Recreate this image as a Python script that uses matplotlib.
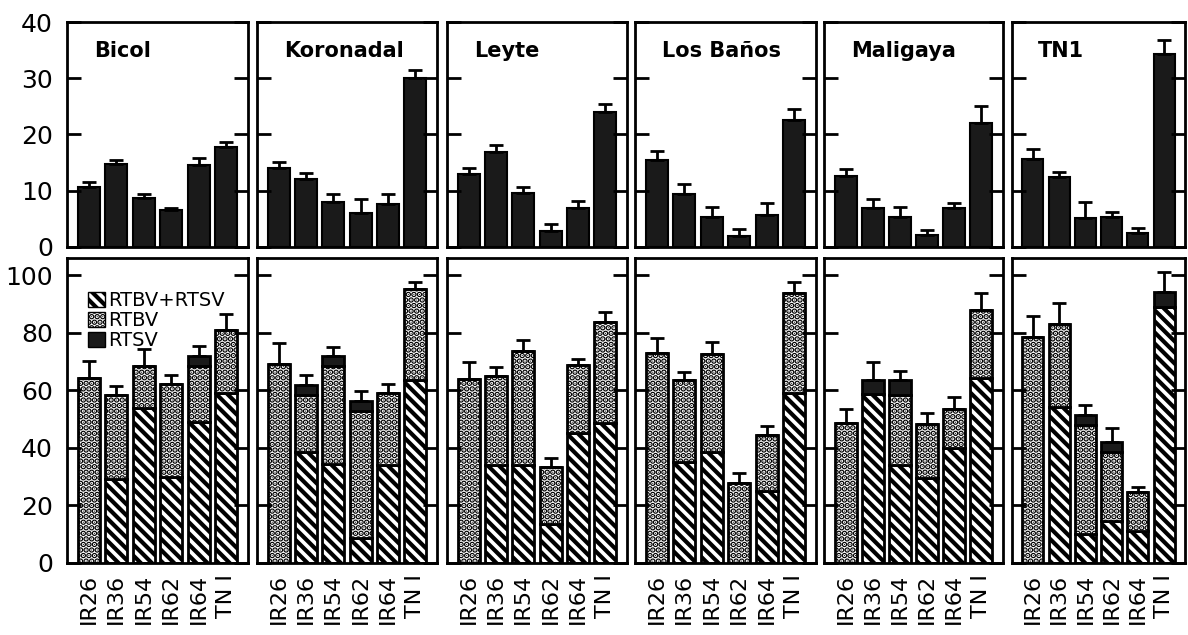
import matplotlib
matplotlib.use("Agg")
import matplotlib.pyplot as plt
from matplotlib.patches import Patch

plt.rcParams['font.family'] = ['DejaVu Sans']
plt.rcParams['hatch.linewidth'] = 3.0
plt.rcParams['hatch.color'] = 'black'

sites = ["Bicol", "Koronadal", "Leyte", "Los Baños", "Maligaya", "TN1"]
varieties = ["IR26", "IR36", "IR54", "IR62", "IR64", "TN I"]

# top row: black bars with error bars
top_vals = [
    [10.7, 14.8, 8.7, 6.6, 14.6, 17.8],
    [14.0, 12.1, 8.0, 6.0, 7.6, 30.0],
    [13.0, 16.8, 9.6, 2.9, 6.9, 24.0],
    [15.5, 9.4, 5.3, 2.0, 5.7, 22.6],
    [12.6, 6.9, 5.3, 2.1, 6.9, 22.0],
    [15.6, 12.5, 5.1, 5.3, 2.5, 34.3],
]
top_err = [
    [0.8, 0.7, 0.7, 0.4, 1.3, 0.8],
    [1.1, 1.0, 1.4, 2.5, 1.9, 1.5],
    [1.0, 1.3, 1.1, 1.2, 1.3, 1.4],
    [1.6, 1.8, 1.8, 1.2, 2.1, 2.0],
    [1.3, 1.6, 1.8, 0.9, 0.9, 3.1],
    [1.8, 0.8, 2.9, 0.9, 0.9, 2.5],
]

# bottom row: stacked RTBV+RTSV / RTBV / RTSV
both_vals = [
    [0, 29.3, 53.8, 29.9, 49.0, 59.0],
    [0, 38.5, 34.4, 8.7, 34.0, 63.5],
    [0, 34.0, 34.0, 13.5, 45.1, 48.6],
    [0, 35.0, 38.5, 0, 25.0, 59.0],
    [0, 58.7, 34.0, 29.5, 39.9, 64.2],
    [0, 54.2, 10.0, 14.6, 11.1, 88.9],
]
rtbv_vals = [
    [64.2, 29.0, 14.6, 32.3, 19.4, 21.9],
    [69.1, 19.8, 34.0, 44.1, 25.0, 31.6],
    [63.9, 30.9, 39.6, 19.8, 23.7, 35.1],
    [72.9, 28.5, 34.1, 27.8, 19.4, 34.8],
    [48.6, 0, 24.3, 18.8, 13.6, 23.6],
    [78.5, 28.8, 37.9, 23.9, 13.6, 0],
]
rtsv_vals = [
    [0, 0, 0, 0, 3.5, 0],
    [0, 3.5, 3.5, 3.5, 0, 0],
    [0, 0, 0, 0, 0, 0],
    [0, 0, 0, 0, 0, 0],
    [0, 4.8, 5.2, 0, 0, 0],
    [0, 0, 3.5, 3.5, 0, 5.2],
]
bottom_err = [
    [5.9, 3.2, 5.9, 3.1, 3.4, 5.6],
    [7.3, 3.5, 3.1, 3.4, 3.2, 2.5],
    [5.9, 3.2, 3.8, 3.2, 2.0, 3.5],
    [5.2, 2.8, 4.1, 3.4, 3.2, 3.8],
    [4.9, 6.3, 3.2, 3.7, 4.1, 6.0],
    [7.3, 7.3, 3.5, 4.9, 1.7, 6.9],
]

W, H = 1188, 635
fig = plt.figure(figsize=(W / 100, H / 100), dpi=100)

lefts = [67, 257, 447, 635, 824, 1012]
widths = [181, 180, 180, 181, 179, 173]
x = list(range(len(varieties)))
bw = 0.8
lw = 2.0
diag = '\\\\\\'
dots = '...'


def style_axis(ax):
    for sp in ax.spines.values():
        sp.set_linewidth(lw)
    ax.tick_params(axis='y', which='both', direction='in', length=10, width=2,
                   left=True, right=True, labelsize=18, pad=10)
    ax.set_xlim(-0.8, 5.8)


for i, site in enumerate(sites):
    # top panel
    ax = fig.add_axes([lefts[i] / W, (H - 247) / H, widths[i] / W, (247 - 22) / H])
    ax.bar(x, top_vals[i], width=bw, color='#1a1a1a', edgecolor='black', linewidth=1.5,
           yerr=[[0] * 6, top_err[i]], capsize=5,
           error_kw=dict(elinewidth=2, capthick=2, ecolor='black'))
    style_axis(ax)
    ax.set_ylim(0, 40)
    ax.set_yticks([0, 10, 20, 30, 40])
    ax.set_xticks([])
    if i > 0:
        ax.set_yticklabels([])
    ax.text(0.15, 0.87, site, transform=ax.transAxes, fontsize=15,
            fontweight='semibold', va='center', ha='left')

    # bottom panel
    ax2 = fig.add_axes([lefts[i] / W, (H - 563) / H, widths[i] / W, (563 - 258) / H])
    ax2.bar(x, both_vals[i], width=bw, color='white', edgecolor='black',
            linewidth=lw, hatch=diag)
    ax2.bar(x, rtbv_vals[i], width=bw, bottom=both_vals[i], color='white',
            edgecolor='black', linewidth=lw, hatch=dots)
    base = [a + b for a, b in zip(both_vals[i], rtbv_vals[i])]
    totals = [a + b for a, b in zip(base, rtsv_vals[i])]
    ax2.bar(x, rtsv_vals[i], width=bw, bottom=base, color='#1a1a1a',
            edgecolor='black', linewidth=lw)
    ax2.errorbar(x, totals, yerr=[[0] * 6, bottom_err[i]], fmt='none', ecolor='black',
                 elinewidth=2, capsize=5, capthick=2)
    style_axis(ax2)
    ax2.set_ylim(0, 106)
    ax2.set_yticks([0, 20, 40, 60, 80, 100])
    if i > 0:
        ax2.set_yticklabels([])
    ax2.set_xticks(x)
    ax2.set_xticklabels(varieties, rotation=90, fontsize=16, va='top')
    ax2.tick_params(axis='x', length=0, pad=8)

    if i == 0:
        handles = [
            Patch(facecolor='white', edgecolor='black', hatch=diag, label='RTBV+RTSV'),
            Patch(facecolor='white', edgecolor='black', hatch=dots, label='RTBV'),
            Patch(facecolor='#1a1a1a', edgecolor='black', label='RTSV'),
        ]
        ax2.legend(handles=handles, loc='upper left', bbox_to_anchor=(0.05, 0.93),
                   frameon=False, fontsize=14, handlelength=0.9, handleheight=0.8,
                   handletextpad=0.15, labelspacing=0.05, borderpad=0.1)

fig.savefig("out.png", dpi=100)
